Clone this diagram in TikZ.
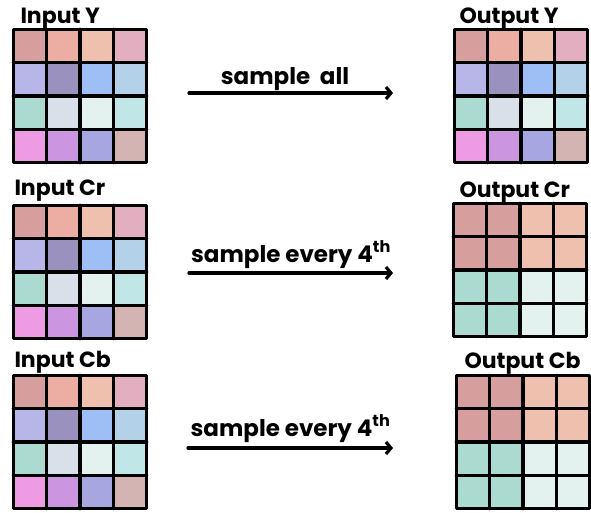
\documentclass[tikz,border=0pt]{standalone}
\usepackage{fontspec}
\setmainfont{Poppins}
\usetikzlibrary{arrows.meta,positioning,calc}

% pixel colours of the 4x4 input block, row by row
\definecolor{pA}{HTML}{D69E9C}
\definecolor{pB}{HTML}{ECADA2}
\definecolor{pC}{HTML}{EFC0AD}
\definecolor{pD}{HTML}{E2AEC0}
\definecolor{pE}{HTML}{B8B5E8}
\definecolor{pF}{HTML}{9A91BF}
\definecolor{pG}{HTML}{9DBFF5}
\definecolor{pH}{HTML}{B3D2EA}
\definecolor{pI}{HTML}{ABDBD0}
\definecolor{pJ}{HTML}{D9E0EA}
\definecolor{pK}{HTML}{E3F2EE}
\definecolor{pL}{HTML}{C1E6E8}
\definecolor{pM}{HTML}{EE9BE3}
\definecolor{pN}{HTML}{CB95E0}
\definecolor{pO}{HTML}{A8A6E0}
\definecolor{pP}{HTML}{D4B3B3}

\tikzset{
  chanbox/.style={rectangle, minimum size=133pt, inner sep=0pt},
  cellline/.style={line width=3.2pt, draw=black, line cap=round, line join=round},
  chanlbl/.style={font=\fontsize{22}{26}\selectfont\bfseries, inner sep=0pt, anchor=base west},
  flow/.style={-{Straight Barb[length=5pt,width=12pt,line width=3.2pt]}, line width=3.2pt, line cap=round},
  flowlbl/.style={font=\fontsize{23}{27}\selectfont\bfseries, inner sep=0pt, anchor=base},
}

% 16 cells of a channel, taken from a colour list
\newcommand\fillcells[2]{%
  \foreach \c [count=\i from 0] in {#2} {
    \pgfmathtruncatemacro\col{mod(\i,4)}
    \pgfmathtruncatemacro\row{div(\i,4)}
    \fill[\c] ($(#1.north west)!\col/4!(#1.north east)$) ++(0,\row*33.25) rectangle ++(33.25,33.25);
  }
  \foreach \k in {1,2,3} {
    \draw[cellline] ($(#1.north west)!\k/4!(#1.north east)$) -- ($(#1.south west)!\k/4!(#1.south east)$);
    \draw[cellline] ($(#1.north west)!\k/4!(#1.south west)$) -- ($(#1.north east)!\k/4!(#1.south east)$);
  }
  \draw[cellline] (#1.north west) rectangle (#1.south east);
}

\begin{document}
\begin{tikzpicture}[x=1pt, y=-1pt]
  \useasboundingbox (0,0) rectangle (591,512);

  % ============ inputs ============
  \node[chanbox] (inY)  at (80,96)  {};
  \node[chanbox] (inCr) at (80,272) {};
  \node[chanbox] (inCb) at (80,442) {};
  \fillcells{inY}{pA,pB,pC,pD,pE,pF,pG,pH,pI,pJ,pK,pL,pM,pN,pO,pP}
  \fillcells{inCr}{pA,pB,pC,pD,pE,pF,pG,pH,pI,pJ,pK,pL,pM,pN,pO,pP}
  \fillcells{inCb}{pA,pB,pC,pD,pE,pF,pG,pH,pI,pJ,pK,pL,pM,pN,pO,pP}

  \node[chanlbl] (inYl)  at ([shift={(7,-6)}]inY.north west)  {Input Y};
  \node[chanlbl] (inCrl) at ([shift={(1,-10)}]inCr.north west) {Input Cr};
  \node[chanlbl] (inCbl) at ([shift={(1,-8)}]inCb.north west)  {Input Cb};

  % ============ outputs ============
  \node[chanbox] (outY)  at (521,96)  {};
  \node[chanbox] (outCr) at (520,270) {};
  \node[chanbox] (outCb) at (523,442) {};
  \fillcells{outY}{pA,pB,pC,pD,pE,pF,pG,pH,pI,pJ,pK,pL,pM,pN,pO,pP}
  \fillcells{outCr}{pA,pA,pC,pC,pA,pA,pC,pC,pI,pI,pK,pK,pI,pI,pK,pK}
  \fillcells{outCb}{pA,pA,pC,pC,pA,pA,pC,pC,pI,pI,pK,pK,pI,pI,pK,pK}

  \node[chanlbl] (outYl)  at ([shift={(5,-6)}]outY.north west)  {Output Y};
  \node[chanlbl] (outCrl) at ([shift={(6,-6)}]outCr.north west) {Output Cr};
  \node[chanlbl] (outCbl) at ([shift={(8,-7)}]outCb.north west) {Output Cb};

  % ============ sampling arrows ============
  \coordinate (yS)  at (189,93);  \coordinate (yE)  at (393,93);
  \coordinate (crS) at (189,273); \coordinate (crE) at (393,273);
  \coordinate (cbS) at (188,448); \coordinate (cbE) at (393,448);

  \draw[flow] (yS) -- (yE) node[flowlbl, midway, xshift=-6pt, yshift=9pt] (yl) {sample\ \ all};
  \draw[flow] (crS) -- (crE) node[flowlbl, midway, yshift=11pt] (crl) {sample every 4\textsuperscript{th}};
  \draw[flow] (cbS) -- (cbE) node[flowlbl, midway, yshift=12pt] (cbl) {sample every 4\textsuperscript{th}};

\end{tikzpicture}
\end{document}
